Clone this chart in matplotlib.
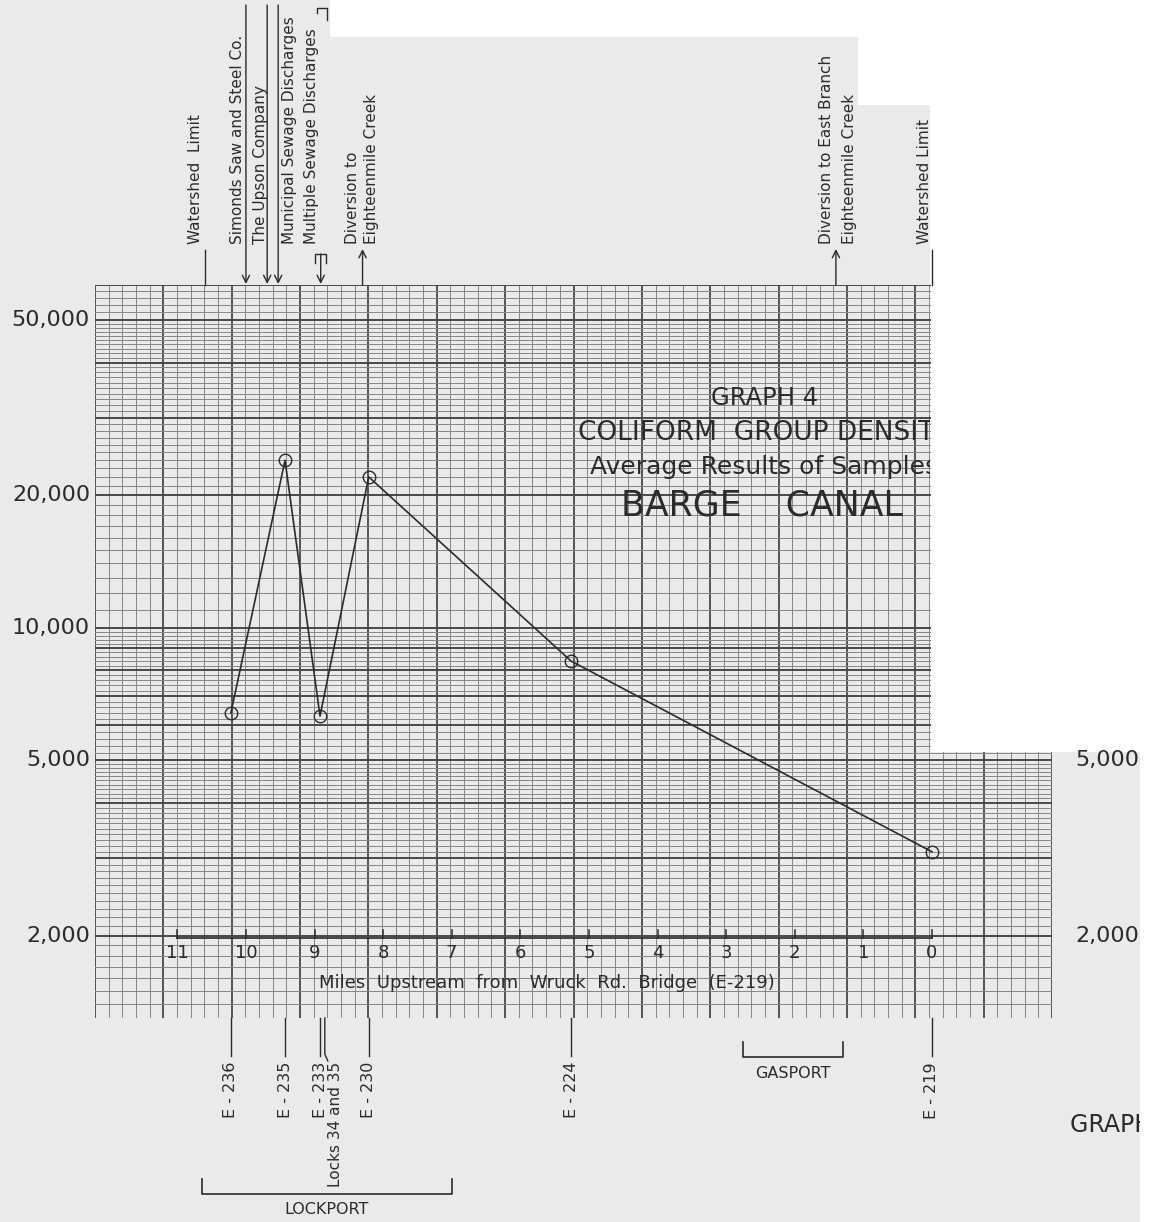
import matplotlib
matplotlib.use('Agg')
import matplotlib.pyplot as plt
import numpy as np
from matplotlib.patches import Polygon, Rectangle
from matplotlib.transforms import Bbox, TransformedBbox

# sampling stations: miles upstream from Wruck Rd. Bridge, coliform density
stations = ['E-236', 'E-235', 'E-233', 'E-230', 'E-224', 'E-219']
miles = [10.22, 9.43, 8.92, 8.21, 5.26, 0.0]
coliform = [6400, 24000, 6300, 22000, 8400, 3100]

# points of interest above the graph
poi_names = [['Watershed  Limit'], ['Simonds Saw and Steel Co.'], ['The Upson Company'],
             ['Municipal Sewage Discharges'], ['Multiple Sewage Discharges'],
             ['Diversion to', 'Eighteenmile Creek'],
             ['Diversion to East Branch', 'Eighteenmile Creek'], ['Watershed Limit']]
poi_miles = [10.6, 10.0, 9.69, 9.53, 8.91, 8.3, 1.4, 0.0]
poi_kind = ['limit', 'down', 'down', 'down', 'bracket', 'up', 'up', 'limit']

locks_name = 'Locks 34 and 35'
locks_mile = 8.85

towns = ['LOCKPORT', 'GASPORT']
town_start = [10.64, 2.75]
town_end = [7.0, 1.3]

mile_ticks = list(range(0, 12))
left_labels = [50000, 20000, 10000, 5000, 2000]
right_labels = [5000, 2000]

# layout (pixels of the 1155x1222 sheet)
W, H = 1155, 1222
AX_L, AX_R, AX_T, AX_B = 95, 1052, 285, 1018
PAPER = '#eaeaea'
INK = '#2b2b2b'
THIN = '#858585'
THICK = '#484848'


def fx(px):
    return (px - AX_L) / (AX_R - AX_L)


def fy(py):
    return (AX_B - py) / (AX_B - AX_T)


fig = plt.figure(figsize=(W / 100, H / 100), dpi=100, facecolor='white')
plt.rcParams['font.family'] = ['DejaVu Sans']

# scanned sheet outline
sheet = [(0, 0), (330, 0), (330, 37), (858, 37), (858, 105), (930, 105), (930, 752),
         (1140, 752), (1140, H), (0, H)]
fig.patches.append(Polygon([(x / W, 1 - y / H) for x, y in sheet], closed=True,
                           transform=fig.transFigure, facecolor=PAPER,
                           edgecolor='none', zorder=-5))

ax = fig.add_axes([AX_L / W, 1 - AX_B / H, (AX_R - AX_L) / W, (AX_B - AX_T) / H])
ax.set_yscale('log')
ax.set_xlim(12.2, -1.75)
ax.set_ylim(1300, 60000)
ax.set_axis_off()
MPP = (12.2 + 1.75) / (AX_R - AX_L)   # miles per pixel


def mx(m, dpx):
    return m - dpx * MPP


# graph paper, vertical rulings
x0, x1 = ax.get_xlim()
for k in range(71):
    ax.axvline(x0 + (x1 - x0) * k / 70, color=THICK if k % 5 == 0 else THIN,
               lw=1.3 if k % 5 == 0 else 0.7, zorder=1)
# log rulings
steps = np.round(np.concatenate([np.arange(1, 5, 0.1), np.arange(5, 10, 0.2)]), 2)
for dec in [1000, 10000]:
    for v in steps:
        y = v * dec
        if 1300 <= y <= 60000:
            major = abs(v - round(v)) < 1e-6
            ax.axhline(y, color=THICK if major else THIN,
                       lw=1.4 if major else 0.7, zorder=1)
# cut-away corner of the sheet
ax.add_patch(Rectangle((fx(931), 5230), 0.2, 80000, transform=ax.get_yaxis_transform(),
                       facecolor='white', edgecolor='none', zorder=1.5, clip_on=False))

ax.plot(miles, coliform, color=INK, lw=1.2, marker='o', ms=9, mfc='none',
        mec=INK, mew=1.0, zorder=4)

trans = ax.get_xaxis_transform()

# drawn mile scale
yl, ytk = fy(938), fy(930)
ax.plot([max(mile_ticks), min(mile_ticks)], [yl, yl], transform=trans, color=INK,
        lw=1.2, zorder=3)
for m in mile_ticks:
    ax.plot([m, m], [yl, ytk], transform=trans, color=INK, lw=1.1, zorder=3)
    ax.text(m, fy(953), str(m), transform=trans, ha='center', va='center',
            fontsize=13, color=INK, zorder=3)
ax.text(fx(547), fy(983), 'Miles  Upstream  from  Wruck  Rd.  Bridge  (E-219)',
        transform=ax.transAxes, ha='center', va='center', fontsize=13, color=INK,
        zorder=3)

# y labels
for v in left_labels:
    ax.text(fx(90), v, f'{v:,}', transform=ax.get_yaxis_transform(), ha='right',
            va='center', fontsize=16, color=INK)
page_clip = TransformedBbox(Bbox.from_extents(0, 0, 1140 / W, 1), fig.transFigure)
for v in right_labels:
    t = ax.text(fx(1075), v, f'{v:,}', transform=ax.get_yaxis_transform(), ha='left',
                va='center', fontsize=16, color=INK, clip_on=True)
    t.set_clip_path(None)
    t.set_clip_box(page_clip)

# title block, cut at the sheet edge
title_clip = TransformedBbox(Bbox.from_extents(0, 0, fx(930), 1), ax.transAxes)
titles = [('GRAPH 4', 765, 398, 'center', 17.5),
          ('COLIFORM  GROUP DENSITY', 578, 433, 'left', 19),
          ('Average Results of Samples', 590, 467, 'left', 18),
          ('BARGE    CANAL', 762, 505, 'center', 25)]
for s, px, py, ha, fs in titles:
    t = ax.text(fx(px), fy(py), s, transform=ax.transAxes, ha=ha, va='center',
                fontsize=fs, color=INK, zorder=5, clip_on=True)
    t.set_clip_path(None)
    t.set_clip_box(title_clip)

# points of interest along the top
arrow = dict(arrowstyle='->', color=INK, lw=1.0, shrinkA=0, shrinkB=0,
             mutation_scale=13)
text_dx = [[-9], [-8], [-7], [11], [-9], [-10, 9], [-9, 14], [-7]]
for names, m, kind, dxs in zip(poi_names, poi_miles, poi_kind, text_dx):
    if kind == 'limit':
        ax.plot([m, m], [1.0, fy(250)], transform=trans, color=INK, lw=1.0,
                clip_on=False)
    elif kind == 'down':
        ax.annotate('', xy=(m, fy(284)), xytext=(m, fy(5)), xycoords=trans,
                    textcoords=trans, arrowprops=arrow, annotation_clip=False)
    elif kind == 'up':
        ax.annotate('', xy=(m, fy(249)), xytext=(m, 1.0), xycoords=trans,
                    textcoords=trans, arrowprops=arrow, annotation_clip=False)
    else:
        ax.plot([mx(m, -5.5), mx(m, -5.5), mx(m, 5.5), mx(m, 5.5)],
                [fy(263), fy(254), fy(254), fy(263)], transform=trans, color=INK,
                lw=1.0, clip_on=False)
        ax.annotate('', xy=(m, fy(284)), xytext=(m, fy(254)), xycoords=trans,
                    textcoords=trans, arrowprops=arrow, annotation_clip=False)
        ax.plot([mx(m, -4), mx(m, -4), mx(m, 6), mx(m, 6)],
                [fy(13), fy(8), fy(8), fy(20)], transform=trans, color=INK,
                lw=1.0, clip_on=False)
    for name, dx in zip(names, dxs):
        ax.text(mx(m, dx), fy(244), name, transform=trans, rotation=90,
                ha='center', va='bottom', fontsize=11, color=INK, clip_on=False)

# stations below the graph
for name, m in zip(stations, miles):
    ax.plot([m, m], [0, fy(1056)], transform=trans, color=INK, lw=1.0, clip_on=False)
    ax.text(m, fy(1062), name.replace('-', ' - '), transform=trans, rotation=90,
            ha='center', va='top', fontsize=11.5, color=INK, clip_on=False)

ax.plot([mx(locks_mile, 0), mx(locks_mile, 0), mx(locks_mile, 3)],
        [0, fy(1054), fy(1061)], transform=trans, color=INK, lw=1.0, clip_on=False)
ax.text(mx(locks_mile, 11), fy(1062), locks_name, transform=trans, rotation=90,
        ha='center', va='top', fontsize=11, color=INK, clip_on=False)

town_y = [(1179, 1194, 1210), (1042, 1057, 1073)]
for name, s, e, (yt, yb, ytxt) in zip(towns, town_start, town_end, town_y):
    ax.plot([s, s, e, e], [fy(yt), fy(yb), fy(yb), fy(yt)], transform=trans,
            color=INK, lw=1.2, clip_on=False)
    ax.text((s + e) / 2, fy(ytxt), name, transform=trans, ha='center', va='center',
            fontsize=11.5, color=INK, clip_on=False)

# next graph's title, cut at the sheet edge as in the scan
t = fig.text(1070 / W, 1 - 1125 / H, 'GRAPH 4', ha='left', va='center', fontsize=17,
             color=INK, clip_on=True)
t.set_clip_box(page_clip)

fig.savefig('out.png', dpi=100, facecolor='white')
